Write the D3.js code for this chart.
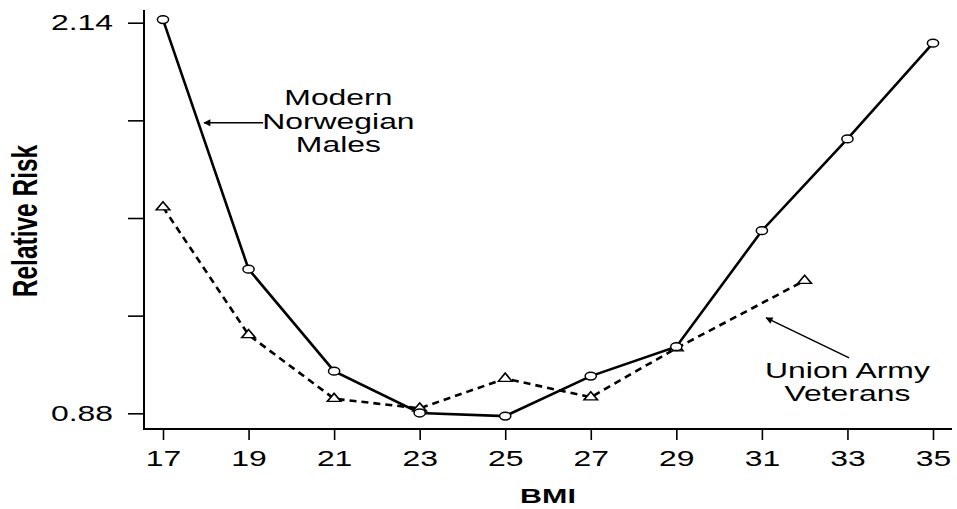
<!DOCTYPE html>
<html>
<head>
<meta charset="utf-8">
<script src="https://cdn.jsdelivr.net/npm/d3@7"></script>
<style>
  body { margin: 0; background: #fff; }
  svg { display: block; }
  text { font-family: "Liberation Sans", Arial, Helvetica, sans-serif; fill: #000; }
</style>
</head>
<body>
<svg id="chart" width="957" height="509"></svg>
<script>
// values
var bmiNorway = [17, 19, 21, 23, 25, 27, 29, 31, 33, 35];
var riskNorway = [2.15, 1.345, 1.016, 0.881, 0.871, 1.0, 1.095, 1.469, 1.765, 2.074];
var bmiUnion = [17, 19, 21, 23, 25, 27, 29, 32];
var riskUnion = [1.545, 1.133, 0.927, 0.896, 0.992, 0.932, 1.09, 1.308];
var xTicks = [17, 19, 21, 23, 25, 27, 29, 31, 33, 35];
var yTicks = [0.88, 1.195, 1.51, 1.825, 2.14];
var yTickLabels = ['0.88', '', '', '', '2.14'];

// the original is stretched sideways, so text and markers get a wider x
var STRETCH = 1.45;

var svg = d3.select('#chart');

var x = d3.scaleLinear().domain([17, 35]).range([163, 933]);
var y = d3.scaleLinear().domain([0.88, 2.14]).range([413.3, 22.7]);

var axisX = 144, axisY = 429;

// frame lines
svg.append('line')
    .attr('x1', axisX).attr('x2', axisX)
    .attr('y1', 10).attr('y2', axisY)
    .attr('stroke', '#000').attr('stroke-width', 2);
svg.append('line')
    .attr('x1', axisX - 1).attr('x2', 952)
    .attr('y1', axisY).attr('y2', axisY)
    .attr('stroke', '#000').attr('stroke-width', 2);

var yAxis = d3.axisLeft(y)
    .tickValues(yTicks)
    .tickSize(16)
    .tickFormat(function(d, i) { return yTickLabels[i]; });

var gy = svg.append('g')
    .attr('transform', 'translate(' + axisX + ',0)')
    .call(yAxis);
gy.select('.domain').remove();
gy.selectAll('line').attr('stroke-width', 1.6);
gy.selectAll('text')
    .attr('x', -31 / STRETCH)
    .attr('transform', 'scale(' + STRETCH + ',1)')
    .style('font-size', '22px')
    .style('font-family', '"Liberation Sans", Arial, sans-serif');

var xAxis = d3.axisBottom(x)
    .tickValues(xTicks)
    .tickSize(11)
    .tickPadding(10);

var gx = svg.append('g')
    .attr('transform', 'translate(0,' + axisY + ')')
    .call(xAxis);
gx.select('.domain').remove();
gx.selectAll('line').attr('stroke-width', 1.6);
gx.selectAll('text')
    .attr('transform', 'scale(' + STRETCH + ',1)')
    .style('font-size', '22px')
    .style('font-family', '"Liberation Sans", Arial, sans-serif');

// axis titles
svg.append('text')
    .attr('transform', 'translate(37,221) scale(' + STRETCH + ',1) rotate(-90)')
    .attr('text-anchor', 'middle')
    .style('font-size', '24.5px')
    .style('font-weight', 'bold')
    .text('Relative Risk');

svg.append('text')
    .attr('transform', 'translate(548,503) scale(' + STRETCH + ',1)')
    .attr('text-anchor', 'middle')
    .style('font-size', '21px')
    .style('font-weight', 'bold')
    .text('BMI');

// lines
var norway = bmiNorway.map(function(d, i) { return {bmi: d, risk: riskNorway[i]}; });
var union = bmiUnion.map(function(d, i) { return {bmi: d, risk: riskUnion[i]}; });

var line = d3.line()
    .x(function(d) { return x(d.bmi); })
    .y(function(d) { return y(d.risk); });

svg.append('path')
    .datum(union)
    .attr('d', line)
    .attr('fill', 'none')
    .attr('stroke', '#000')
    .attr('stroke-width', 2.6)
    .attr('stroke-dasharray', '7,5');

svg.append('path')
    .datum(norway)
    .attr('d', line)
    .attr('fill', 'none')
    .attr('stroke', '#000')
    .attr('stroke-width', 2.6);

// markers
var tri = d3.symbol().type(d3.symbolTriangle).size(38);

svg.selectAll('path.tri')
    .data(union)
    .enter()
    .append('path')
    .attr('class', 'tri')
    .attr('d', tri)
    .attr('transform', function(d) {
        return 'translate(' + x(d.bmi) + ',' + y(d.risk) + ') scale(' + STRETCH + ',1)';
    })
    .attr('fill', '#fff')
    .attr('stroke', '#000')
    .attr('stroke-width', 1.3);

svg.selectAll('ellipse')
    .data(norway)
    .enter()
    .append('ellipse')
    .attr('cx', function(d) { return x(d.bmi); })
    .attr('cy', function(d) { return y(d.risk); })
    .attr('rx', 5.6)
    .attr('ry', 3.9)
    .attr('fill', '#fff')
    .attr('stroke', '#000')
    .attr('stroke-width', 1.5);

// annotations
svg.append('defs').append('marker')
    .attr('id', 'head')
    .attr('viewBox', '0 0 10 10')
    .attr('refX', 9).attr('refY', 5)
    .attr('markerWidth', 9).attr('markerHeight', 7)
    .attr('markerUnits', 'userSpaceOnUse')
    .attr('orient', 'auto')
    .append('path')
    .attr('d', 'M0,0 L10,5 L0,10 Z')
    .attr('fill', '#000');

var notes = [
    {lines: ['Modern', 'Norwegian', 'Males'], bmi: 21.1, risk: 1.874, from: [19.34, 1.817], to: [17.96, 1.817]},
    {lines: ['Union Army', 'Veterans'], bmi: 33.0, risk: 0.994, from: [33.04, 1.059], to: [31.1, 1.188]}
];

notes.forEach(function(n) {
    var t = svg.append('text')
        .attr('transform', 'translate(' + x(n.bmi) + ',' + y(n.risk) + ') scale(' + STRETCH + ',1)')
        .attr('text-anchor', 'middle')
        .style('font-size', '22px');
    t.selectAll('tspan')
        .data(n.lines)
        .enter()
        .append('tspan')
        .attr('x', 0)
        .attr('dy', function(d, i) { return i === 0 ? 0 : 23.5; })
        .text(function(d) { return d; });

    svg.append('line')
        .attr('x1', x(n.from[0])).attr('y1', y(n.from[1]))
        .attr('x2', x(n.to[0])).attr('y2', y(n.to[1]))
        .attr('stroke', '#000')
        .attr('stroke-width', 1.5)
        .attr('marker-end', 'url(#head)');
});
</script>
</body>
</html>
